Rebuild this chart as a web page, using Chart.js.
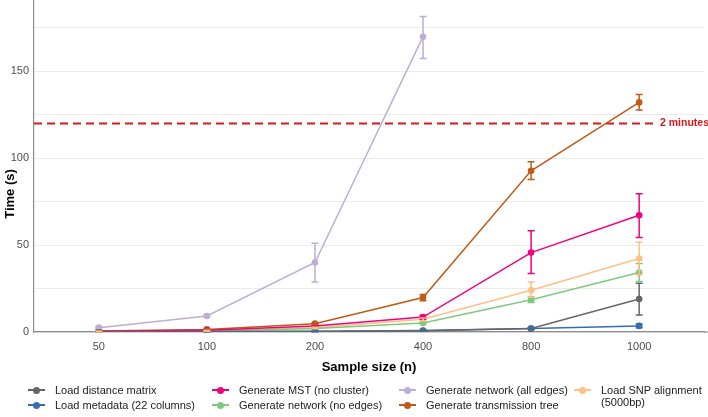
<!DOCTYPE html>
<html lang="en">
<head>
<meta charset="UTF-8">
<title>Run time by sample size</title>
<script src="https://cdn.jsdelivr.net/npm/chart.js"></script>
<style>
    html, body { margin: 0; padding: 0; background: #fff; }
    #wrap { position: relative; width: 708px; height: 417px; font-family: "Liberation Sans", Arial, sans-serif; }
    #legend { position: absolute; left: 0; top: 0; width: 708px; height: 417px; pointer-events: none; }
    .item { position: absolute; font-size: 11px; color: #222; line-height: 12px; white-space: nowrap; }
    .key { position: absolute; width: 17px; height: 2px; }
    .key i { position: absolute; left: 5px; top: -2.5px; width: 7px; height: 7px; border-radius: 50%; }
</style>
</head>
<body>
<div id="wrap">
    <canvas id="timeChart" width="708" height="417"></canvas>
    <div id="legend"></div>
</div>
<script>
// sample sizes on the x axis
var sampleSizes = ['50', '100', '200', '400', '800', '1000'];

var seriesNames = [
    'Load distance matrix',
    'Load metadata (22 columns)',
    'Generate MST (no cluster)',
    'Generate network (no edges)',
    'Generate network (all edges)',
    'Generate transmission tree',
    'Load SNP alignment (5000bp)'
];
var seriesColors = ['#666666', '#386cb0', '#f0027f', '#7fc97f', '#beaed4', '#bf5b17', '#fdc086'];

// mean times (s) and error bar bounds
var distMatrix     = [0.1, 0.2, 0.3, 0.7, 2.0, 19.0];
var distMatrixLo   = [0.1, 0.1, 0.2, 0.5, 1.6, 9.8];
var distMatrixHi   = [0.2, 0.3, 0.4, 0.9, 2.4, 28.0];

var metadata       = [0.2, 0.3, 0.4, 0.8, 2.0, 3.5];
var metadataLo     = [0.1, 0.2, 0.3, 0.6, 1.6, 2.4];
var metadataHi     = [0.3, 0.4, 0.5, 1.0, 2.4, 4.6];

var mst            = [0.4, 1.0, 3.5, 8.6, 45.7, 67.2];
var mstLo          = [0.3, 0.8, 3.0, 7.5, 33.6, 54.3];
var mstHi          = [0.5, 1.2, 4.0, 9.7, 58.2, 79.5];

var netNoEdges     = [0.2, 0.5, 2.0, 5.2, 18.6, 34.2];
var netNoEdgesLo   = [0.1, 0.4, 1.7, 4.5, 17.0, 29.0];
var netNoEdgesHi   = [0.3, 0.6, 2.3, 5.9, 20.2, 39.4];

var netAllEdges    = [2.5, 9.2, 40.0, 169.9, null, null];
var netAllEdgesLo  = [2.0, 8.5, 28.8, 157.4, null, null];
var netAllEdgesHi  = [3.0, 9.9, 51.0, 181.5, null, null];

var transTree      = [0.6, 1.5, 4.8, 19.8, 92.7, 132.1];
var transTreeLo    = [0.5, 1.3, 4.3, 18.0, 87.7, 127.7];
var transTreeHi    = [0.7, 1.7, 5.3, 21.6, 97.9, 136.7];

var snpAlign       = [0.3, 0.7, 2.5, 7.3, 24.0, 42.3];
var snpAlignLo     = [0.2, 0.6, 2.2, 6.5, 20.0, 33.0];
var snpAlignHi     = [0.4, 0.8, 2.8, 8.1, 28.8, 51.6];

var twoMinutes = 120;

var means = [distMatrix, metadata, mst, netNoEdges, netAllEdges, transTree, snpAlign];
var lows  = [distMatrixLo, metadataLo, mstLo, netNoEdgesLo, netAllEdgesLo, transTreeLo, snpAlignLo];
var highs = [distMatrixHi, metadataHi, mstHi, netNoEdgesHi, netAllEdgesHi, transTreeHi, snpAlignHi];

var FONT = '"Liberation Sans", Arial, sans-serif';

var datasets = means.map(function (vals, i) {
    return {
        label: seriesNames[i],
        data: vals.map(function (v, j) { return { x: j, y: v }; }).filter(function (p) { return p.y !== null; }),
        borderColor: seriesColors[i],
        backgroundColor: seriesColors[i],
        borderWidth: 1.5,
        pointRadius: 3.3,
        pointBorderWidth: 0,
        tension: 0
    };
});

// dashed 2-minute line with label, the y axis title, and the axis line to the edge
var refLine = {
    id: 'refLine',
    beforeDatasetsDraw: function (chart) {
        var ctx = chart.ctx, ca = chart.chartArea;
        var y = chart.scales.y.getPixelForValue(twoMinutes);
        ctx.save();
        ctx.strokeStyle = '#8c8c8c';
        ctx.lineWidth = 1.2;
        ctx.beginPath();
        ctx.moveTo(ca.right, ca.bottom);
        ctx.lineTo(chart.width, ca.bottom);
        ctx.stroke();

        ctx.strokeStyle = '#d7191c';
        ctx.lineWidth = 2;
        ctx.setLineDash([8, 5]);
        ctx.beginPath();
        ctx.moveTo(ca.left, y);
        ctx.lineTo(655, y);
        ctx.stroke();
        ctx.setLineDash([]);
        ctx.fillStyle = '#d7191c';
        ctx.font = 'bold 10.5px ' + FONT;
        ctx.textBaseline = 'middle';
        ctx.fillText('2 minutes', 660, y);

        ctx.translate(10, 194);
        ctx.rotate(-Math.PI / 2);
        ctx.fillStyle = '#000';
        ctx.font = 'bold 13px ' + FONT;
        ctx.textAlign = 'center';
        ctx.fillText('Time (s)', 0, 0);
        ctx.restore();
    }
};

// vertical error bars with caps
var errorBars = {
    id: 'errorBars',
    afterDatasetsDraw: function (chart) {
        var ctx = chart.ctx, ys = chart.scales.y;
        ctx.save();
        ctx.lineWidth = 1.5;
        means.forEach(function (vals, i) {
            var meta = chart.getDatasetMeta(i);
            var k = 0;
            vals.forEach(function (v, j) {
                if (v === null) return;
                var x = meta.data[k++].x;
                var y1 = ys.getPixelForValue(lows[i][j]);
                var y2 = ys.getPixelForValue(highs[i][j]);
                ctx.strokeStyle = seriesColors[i];
                ctx.beginPath();
                ctx.moveTo(x, y1); ctx.lineTo(x, y2);
                ctx.moveTo(x - 3.5, y1); ctx.lineTo(x + 3.5, y1);
                ctx.moveTo(x - 3.5, y2); ctx.lineTo(x + 3.5, y2);
                ctx.stroke();
            });
        });
        ctx.restore();
    }
};

var ctxTime = document.getElementById('timeChart').getContext('2d');
var timeChart = new Chart(ctxTime, {
    type: 'line',
    data: { datasets: datasets },
    options: {
        responsive: false,
        animation: false,
        layout: { autoPadding: false, padding: { left: 0, right: 4, top: 0, bottom: 0 } },
        plugins: {
            legend: { display: false },
            tooltip: { enabled: false }
        },
        scales: {
            x: {
                type: 'linear',
                min: -0.6,
                max: 5.6,
                grid: { display: false, drawTicks: false },
                border: { display: true, color: '#8c8c8c', width: 1.2 },
                afterBuildTicks: function (s) {
                    s.ticks = sampleSizes.map(function (_, i) { return { value: i }; });
                },
                ticks: {
                    padding: 8,
                    color: '#4d4d4d',
                    font: { family: FONT, size: 11 },
                    maxRotation: 0,
                    callback: function (v) { return sampleSizes[v]; }
                },
                title: {
                    display: true,
                    text: 'Sample size (n)',
                    color: '#000',
                    font: { family: FONT, size: 13, weight: 'bold' },
                    padding: { top: 0, bottom: 42 }
                },
                afterFit: function (s) {
                    s.height = 85;
                    s.paddingLeft = 0;
                    s.paddingRight = 0;
                }
            },
            y: {
                min: 0,
                max: 191,
                grid: { color: '#ebebeb', lineWidth: 1, drawTicks: false },
                border: { display: true, color: '#8c8c8c', width: 1.2 },
                ticks: {
                    stepSize: 25,
                    includeBounds: false,
                    padding: 5,
                    color: '#4d4d4d',
                    font: { family: FONT, size: 11 },
                    callback: function (v) { return v % 50 === 0 ? v : ''; }
                },
                afterFit: function (s) {
                    s.width = 34;
                    s.paddingTop = 0;
                    s.paddingBottom = 0;
                }
            }
        }
    },
    plugins: [refLine, errorBars]
});

// legend, filled column by column
var legendCols = [28, 212, 399, 574];
var legendRows = [390, 405];
var legendEl = document.getElementById('legend');
seriesNames.forEach(function (name, i) {
    var col = Math.floor(i / 2), row = i % 2;
    var key = document.createElement('div');
    key.className = 'key';
    key.style.left = legendCols[col] + 'px';
    key.style.top = (legendRows[row] - 1) + 'px';
    key.style.background = seriesColors[i];
    var dot = document.createElement('i');
    dot.style.background = seriesColors[i];
    key.appendChild(dot);
    legendEl.appendChild(key);

    var txt = document.createElement('div');
    txt.className = 'item';
    txt.style.left = (legendCols[col] + 27) + 'px';
    txt.style.top = (legendRows[row] - 6) + 'px';
    txt.innerHTML = name === 'Load SNP alignment (5000bp)' ? 'Load SNP alignment<br>(5000bp)' : name;
    legendEl.appendChild(txt);
});
</script>
</body>
</html>
